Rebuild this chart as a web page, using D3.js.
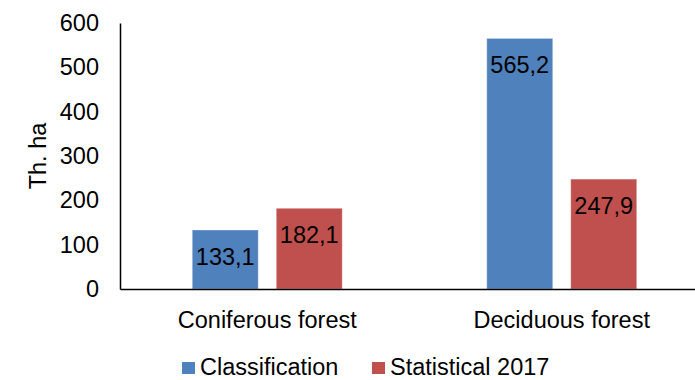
<!DOCTYPE html>
<html>
<head>
<meta charset="utf-8">
<script src="https://cdn.jsdelivr.net/npm/d3@7/dist/d3.min.js"></script>
<style>
  html, body { margin: 0; padding: 0; background: #fff; }
  svg { display: block; }
  text { font-family: "Liberation Sans", Arial, sans-serif; fill: #000; }
</style>
</head>
<body>
<svg id="chart" width="695" height="380"></svg>
<script>
// Forest area by type, thousand hectares
const categories = ["Coniferous forest", "Deciduous forest"];
const seriesNames = ["Classification", "Statistical 2017"];
const classification = [133.1, 565.2];
const statistical2017 = [182.1, 247.9];
const yTicks = [0, 100, 200, 300, 400, 500, 600];
const yTitle = "Th. ha";

const colors = ["#4F81BD", "#C0504D"];
const seriesValues = [classification, statistical2017];
const fontSize = 23.5;

const svg = d3.select("#chart");
const plot = { left: 120, top: 23, bottom: 289, right: 709 };

const y = d3.scaleLinear().domain([0, 600]).range([plot.bottom, plot.top]);
const x0 = d3.scaleBand().domain(categories).range([plot.left, plot.right]);
const x1 = d3.scaleBand().domain(seriesNames)
  .range([0, x0.bandwidth()])
  .paddingInner(0.2143)
  .paddingOuter(0.86);

// Bars with value labels
const groups = svg.append("g").selectAll("g")
  .data(categories)
  .join("g")
  .attr("transform", d => `translate(${x0(d)},0)`);

const rows = (c, ci) => seriesNames.map((s, si) => ({ s, si, v: seriesValues[si][ci] }));

groups.selectAll("rect")
  .data((c, ci) => rows(c, ci))
  .join("rect")
  .attr("x", d => x1(d.s))
  .attr("y", d => y(d.v))
  .attr("width", x1.bandwidth())
  .attr("height", d => y(0) - y(d.v))
  .attr("fill", d => colors[d.si])
  .attr("stroke", "#ffffff")
  .attr("stroke-opacity", 0.35)
  .attr("stroke-width", 1);

const fmt = v => v.toFixed(1).replace(".", ",");
groups.selectAll("text.val")
  .data((c, ci) => rows(c, ci))
  .join("text")
  .attr("class", "val")
  .attr("x", d => x1(d.s) + x1.bandwidth() / 2)
  .attr("y", d => y(d.v) + 35)
  .attr("text-anchor", "middle")
  .style("font-size", fontSize + "px")
  .text(d => fmt(d.v));

// Y axis
const yAxis = d3.axisLeft(y).tickValues(yTicks).tickSize(0).tickPadding(21);
const gy = svg.append("g").attr("transform", `translate(${plot.left},0)`).call(yAxis);
gy.select(".domain").attr("stroke", "#000").attr("stroke-width", 1.5);
gy.selectAll("text")
  .style("font-size", fontSize + "px")
  .style("font-family", "'Liberation Sans', Arial, sans-serif")
  .attr("fill", "#000");

// X axis
const xAxis = d3.axisBottom(x0).tickSize(0).tickPadding(0);
const gx = svg.append("g").attr("transform", `translate(0,${plot.bottom})`).call(xAxis);
gx.select(".domain").attr("stroke", "#000").attr("stroke-width", 1.5);
gx.selectAll("text")
  .attr("y", 39)
  .attr("dy", 0)
  .style("font-size", fontSize + "px")
  .style("font-family", "'Liberation Sans', Arial, sans-serif")
  .attr("fill", "#000");

// Y axis title
svg.append("text")
  .attr("transform", `translate(46,${(plot.top + plot.bottom) / 2}) rotate(-90)`)
  .attr("text-anchor", "middle")
  .style("font-size", fontSize + "px")
  .text(yTitle);

// Legend
const legendX = [182, 372];
const legend = svg.append("g").selectAll("g")
  .data(seriesNames)
  .join("g")
  .attr("transform", (d, i) => `translate(${legendX[i]},0)`);
legend.append("rect")
  .attr("x", 0).attr("y", 362)
  .attr("width", 13).attr("height", 12)
  .attr("fill", (d, i) => colors[i]);
legend.append("text")
  .attr("x", 18).attr("y", 375)
  .style("font-size", fontSize + "px")
  .text(d => d);
</script>
</body>
</html>
